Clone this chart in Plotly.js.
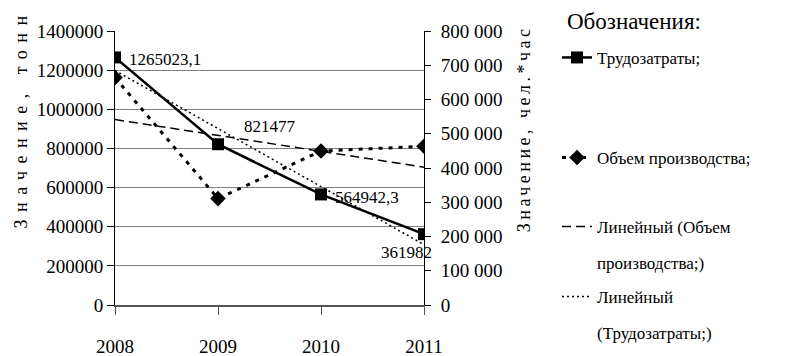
<!DOCTYPE html>
<html>
<head>
<meta charset="utf-8">
<script src="https://cdn.plot.ly/plotly-3.0.1.min.js"></script>
<style>
html, body { margin: 0; padding: 0; background: #fff; }
#chart { width: 786px; height: 356px; }
g.annotation[data-index="0"] text { letter-spacing: 7.5px; }
g.annotation[data-index="1"] text { letter-spacing: 3.5px; }
</style>
</head>
<body>
<div id="chart"></div>
<script>
// ---- data ----
const years = [2008, 2009, 2010, 2011];
const labour = [1265023.1, 821477, 564942.3, 361982];          // Трудозатраты (left axis)
const production = [664000, 310700, 449600, 463400];          // Объем производства (right axis)
const productionTrend = [541400, 495100, 448800, 402500];     // Линейный (Объем производства;)
const labourTrend = [1198200, 901600, 605100, 308500];        // Линейный (Трудозатраты;)
const labourLabels = ['1265023,1', '821477', '564942,3', '361982'];

const names = {
  labour: 'Трудозатраты;',
  production: 'Объем производства;',
  prodTrend: 'Линейный (Объем<br>производства;)',
  labTrend: 'Линейный<br>(Трудозатраты;)'
};
const legendTitle = 'Обозначения:';
const yLeftTitle = 'Значение, тонн';
const yRightTitle = 'Значение, чел.*час';

// ---- styles ----
const FONT = 'Liberation Serif, Tinos, DejaVu Serif, Times New Roman, serif';
const labelOffsets = [
  {xanchor: 'left', xshift: 12, yshift: -2},
  {xanchor: 'left', xshift: 24, yshift: 18},
  {xanchor: 'left', xshift: 12, yshift: -3},
  {xanchor: 'right', xshift: 10, yshift: -18}
];

const traces = [
  {
    x: years, y: productionTrend, yaxis: 'y2', name: names.prodTrend, mode: 'lines',
    line: {color: '#000', width: 1.5, dash: '9px,5px'}, legend: 'legend3'
  },
  {
    x: years, y: labourTrend, yaxis: 'y', name: names.labTrend, mode: 'lines',
    line: {color: '#000', width: 1.5, dash: '2px,3px'}, legend: 'legend4'
  },
  {
    x: years, y: production, yaxis: 'y2', name: names.production, mode: 'lines+markers',
    line: {color: '#000', width: 3, dash: '4px,6px'},
    marker: {symbol: 'diamond', size: 12, color: '#000'}, legend: 'legend2'
  },
  {
    x: years, y: labour, yaxis: 'y', name: names.labour, mode: 'lines+markers',
    line: {color: '#000', width: 2.5},
    marker: {symbol: 'square', size: 12, color: '#000'}, legend: 'legend'
  }
];

const annotations = [
  {text: yLeftTitle, textangle: -90, xref: 'paper', yref: 'paper', x: -0.304, y: 0.679,
   xanchor: 'center', yanchor: 'middle',
   showarrow: false, font: {family: FONT, size: 18, color: '#000'}},
  {text: yRightTitle, textangle: -90, xref: 'paper', yref: 'paper', x: 1.325, y: 0.645,
   xanchor: 'center', yanchor: 'middle',
   showarrow: false, font: {family: FONT, size: 18, color: '#000'}}
];
labour.forEach((v, i) => {
  annotations.push(Object.assign({
    x: years[i], y: v, xref: 'x', yref: 'y', text: labourLabels[i], showarrow: false,
    font: {family: FONT, size: 17, color: '#000'}, yanchor: 'middle'
  }, labelOffsets[i]));
});

const legendBase = {
  xref: 'container', yref: 'container', bgcolor: 'rgba(0,0,0,0)', borderwidth: 0,
  font: {family: FONT, size: 17, color: '#000'}, valign: 'top', itemclick: false
};

const layout = {
  width: 786, height: 356,
  margin: {l: 115, r: 362, t: 31, b: 51},
  paper_bgcolor: '#fff', plot_bgcolor: '#fff',
  separators: ', ',
  font: {family: FONT, size: 19, color: '#000'},
  showlegend: true,
  xaxis: {
    range: [2008, 2011], tickvals: years, ticktext: years.map(String),
    showgrid: false, zeroline: false, showline: true, linecolor: '#555', linewidth: 2,
    ticks: 'outside', ticklen: 8, tickcolor: '#555', tickwidth: 1,
    ticklabelstandoff: 15, tickfont: {family: FONT, size: 19}
  },
  yaxis: {
    range: [0, 1400000], dtick: 200000, tickformat: 'd',
    showgrid: true, gridcolor: '#808080', gridwidth: 1, zeroline: false,
    showline: true, linecolor: '#000', linewidth: 1,
    ticks: 'outside', ticklen: 7, tickcolor: '#000',
    tickfont: {family: FONT, size: 19}
  },
  yaxis2: {
    overlaying: 'y', side: 'right', range: [0, 800000], dtick: 100000, tickformat: ',d',
    showgrid: false, zeroline: false, showline: true, linecolor: '#000', linewidth: 1,
    ticks: 'outside', ticklen: 6, tickcolor: '#000',
    ticklabelstandoff: 6, tickfont: {family: FONT, size: 19}
  },
  legend: Object.assign({}, legendBase, {x: 557 / 786, y: 1 - 10 / 356, xanchor: 'left', yanchor: 'top',
    title: {text: legendTitle, font: {family: FONT, size: 23, color: '#000'}}}),
  legend2: Object.assign({}, legendBase, {x: 557 / 786, y: 1 - 158 / 356, xanchor: 'left', yanchor: 'middle'}),
  legend3: Object.assign({}, legendBase, {x: 557 / 786, y: 1 - 209 / 356, xanchor: 'left', yanchor: 'top'}),
  legend4: Object.assign({}, legendBase, {x: 557 / 786, y: 1 - 279 / 356, xanchor: 'left', yanchor: 'top'}),
  annotations: annotations
};

// reference uses a wider line gap in the two-line legend entries and a raised legend title
function finishLegends() {
  document.querySelectorAll('#chart .legendtext, #chart .legend2text, #chart .legend3text, #chart .legend4text')
    .forEach(function (t) {
      const lines = t.querySelectorAll('tspan.line');
      if (lines.length > 1) lines[1].setAttribute('dy', '2.1em');
    });
  document.querySelectorAll('#chart .infolayer g.scrollbox, #chart .infolayer g[clip-path]')
    .forEach(function (g) {
      if (g.closest('[class^="legend"]')) g.removeAttribute('clip-path');
    });
  const title = document.querySelector('#chart .legendtitletext');
  if (title) title.setAttribute('transform', 'translate(8,-11)');
}

const p = Plotly.newPlot('chart', traces, layout, {displayModeBar: false, staticPlot: true});
finishLegends();
p.then(finishLegends);
</script>
</body>
</html>
